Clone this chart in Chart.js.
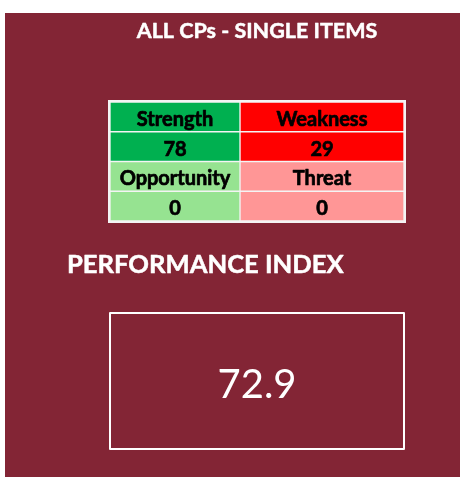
<!DOCTYPE html>
<html><head><meta charset="utf-8">
<script src="https://cdn.jsdelivr.net/npm/chart.js@4"></script>
<style>
html,body{margin:0;padding:0;background:#fff;}
#bg{position:absolute;left:5px;top:13px;width:455px;height:464px;background:#832535;}
#wrap{position:absolute;left:0;top:0;width:460px;height:477px;}
</style></head><body>
<div id="bg"></div>
<div id="wrap"><canvas id="c" width="460" height="477"></canvas></div>
<script>
// ---- data ----
const chartTitle = "ALL CPs - SINGLE ITEMS";
const categories = ["Strength", "Weakness", "Opportunity", "Threat"];
const counts = [78, 29, 0, 0];
const indexLabel = "PERFORMANCE INDEX";
const performanceIndex = 72.9;
const rowNames = ["head1", "value1", "head2", "value2"];

// ---- layout / styles ----
const columnEdges = [0, 130, 294];   // table column boundaries (table-width units)
const cellColors = ["#00B050", "#FF0000", "#96E391", "#FF9696"];
const FONT = "Lato, 'Open Sans', sans-serif";

// one dataset per table column; one floating bar per table row
const datasets = [0, 1].map(c => {
  const idx = rowNames.map((_, r) => Math.floor(r / 2) * 2 + c);
  return {
    data: rowNames.map(() => [columnEdges[c], columnEdges[c + 1]]),
    texts: idx.map((i, r) => r % 2 === 0 ? categories[i] : String(counts[i])),
    backgroundColor: idx.map(i => cellColors[i]),
    borderColor: '#F4F4F4',
    borderWidth: 1,
    borderSkipped: false,
    grouped: false,
    categoryPercentage: 1,
    barPercentage: 1
  };
});

function boldText(ctx, txt, x, y, color, w) {
  ctx.fillStyle = color;
  ctx.strokeStyle = color;
  ctx.lineWidth = w;
  ctx.lineJoin = 'round';
  ctx.strokeText(txt, x, y);
  ctx.fillText(txt, x, y);
}

const dashPlugin = {
  id: 'dash',
  beforeDatasetsDraw(chart) {
    const {ctx, chartArea: a} = chart;
    ctx.save();
    ctx.fillStyle = '#F4F4F4';
    ctx.fillRect(a.left - 2, a.top - 2, a.right - a.left + 4, a.bottom - a.top + 4);
    ctx.restore();
  },
  afterDatasetsDraw(chart) {
    const {ctx, chartArea: a} = chart;
    ctx.save();
    ctx.textAlign = 'center';
    ctx.textBaseline = 'alphabetic';
    ctx.font = "bold 20px " + FONT;
    chart.data.datasets.forEach((ds, di) => {
      chart.getDatasetMeta(di).data.forEach((bar, j) => {
        const p = bar.getProps(['x', 'y', 'base'], true);
        const cx = (p.x + p.base) / 2;
        boldText(ctx, ds.texts[j], cx, p.y + 9, '#000', 0.7);
      });
    });
    const mid = (a.left + a.right) / 2;
    ctx.font = "bold 21.5px " + FONT;
    boldText(ctx, chartTitle, mid, 38, '#fff', 0.5);
    ctx.textAlign = 'left';
    ctx.font = "bold 25.6px " + FONT;
    boldText(ctx, indexLabel, 67, 273, '#fff', 0.5);
    ctx.strokeStyle = '#fff';
    ctx.lineWidth = 2;
    ctx.strokeRect(110, 313, 294, 136);
    ctx.textAlign = 'center';
    ctx.fillStyle = '#fff';
    ctx.font = "40px " + FONT;
    ctx.fillText(performanceIndex.toFixed(1), mid, 398);
    ctx.restore();
  }
};

new Chart(document.getElementById('c'), {
  type: 'bar',
  data: { labels: rowNames, datasets },
  options: {
    indexAxis: 'y',
    responsive: false,
    animation: false,
    layout: { padding: { left: 110, right: 56, top: 102, bottom: 256 } },
    plugins: { legend: { display: false }, tooltip: { enabled: false }, title: { display: false } },
    scales: {
      y: { type: 'category', display: false, offset: true },
      x: { type: 'linear', min: columnEdges[0], max: columnEdges[2], display: false }
    }
  },
  plugins: [dashPlugin]
});
</script>
</body></html>
